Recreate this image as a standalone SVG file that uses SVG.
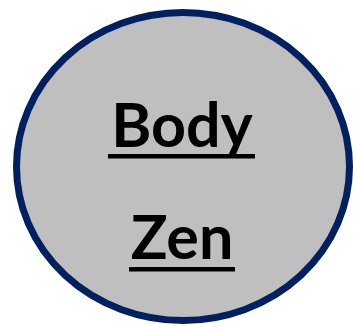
<svg xmlns="http://www.w3.org/2000/svg" width="353" height="324" viewBox="0 0 353 324">
<style>
.lbl{font-family:Lato,"Open Sans",sans-serif;font-weight:bold;font-size:61px;fill:#000;text-anchor:middle}
.ul{fill:#000}
</style>
<rect width="353" height="324" fill="#fff"/>
<g id="node-body-zen">
<ellipse cx="183" cy="166.5" rx="166.5" ry="154" fill="#bfbfbf" stroke="#002060" stroke-width="7"/>
<text class="lbl" x="182" y="147">Body</text>
<rect class="ul" x="108" y="154" width="147" height="4.5"/>
<text class="lbl" x="182" y="259">Zen</text>
<rect class="ul" x="129" y="267" width="106" height="4.5"/>
</g>
<g id="connectors"/>
</svg>
